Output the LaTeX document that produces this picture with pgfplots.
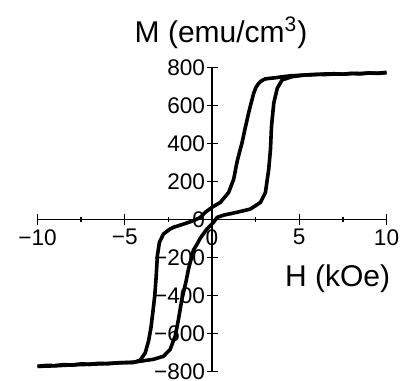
\documentclass[border=0pt]{standalone}
\usepackage{fontspec}
\setmainfont{Liberation Sans}
\usepackage{pgfplots}
\pgfplotsset{compat=1.18}
\begin{document}
\begin{tikzpicture}
\useasboundingbox (-18.75pt,-4.15pt) rectangle (184.25pt,185.85pt);
\begin{axis}[
  scale only axis, width=174.5pt, height=152.2pt,
  xmin=-10, xmax=10, ymin=-800, ymax=800,
  axis lines=middle,
  axis line style={-, line width=0.7pt},
  every inner x axis line/.append style={-},
  every inner y axis line/.append style={-},
  hide obscured x ticks=false, hide obscured y ticks=false,
  xtick={-10,-5,0,5,10},
  xticklabels={−10,−5,0,5,10},
  minor xtick={-7.5,-2.5,2.5,7.5},
  ytick={-800,-600,-400,-200,0,200,400,600,800},
  yticklabels={−800,−600,−400,−200,0,200,400,600,800},
  tick align=center,
  major tick length=5.5pt, minor tick length=2.5pt,
  tick style={black, line width=0.7pt},
  tick label style={font=\fontsize{11.3}{13}\selectfont},
  yticklabel style={xshift=2.8pt},
  xticklabel style={yshift=1.4pt},
  clip=false,
]
\addplot[black, line width=1.8pt, line join=round] coordinates {
(10,772) (9.5,768) (9,770) (8.5,766) (8,767) (7.5,764) (7,765) (6.5,762) (6,763) (5.5,760) (5,758) (4.5,755) (4,750) (3.63,745) (3.3,742) (3.06,739) (2.85,730) (2.68,716) (2.52,695) (2.39,664) (2.25,615) (2.10,560) (1.90,480) (1.72,403) (1.58,355) (1.44,305) (1.24,211) (0.95,142) (0.48,90) (0,64) (-0.385,38) (-0.67,11) (-1.06,-6) (-1.63,-24) (-2.21,-41) (-2.40,-50) (-2.78,-76) (-3.01,-119) (-3.13,-189) (-3.20,-300) (-3.28,-400) (-3.38,-480) (-3.50,-570) (-3.64,-640) (-3.83,-702) (-4.12,-740) (-4.51,-752) (-5.27,-752) (-6,-758) (-6.5,-756) (-7,-761) (-7.5,-759) (-8,-765) (-8.5,-763) (-9,-768) (-9.5,-767) (-10,-772)
};
\addplot[black, line width=1.8pt, line join=round] coordinates {
(-10,-772) (-9,-769) (-8,-764) (-7,-761) (-6,-757) (-5,-752) (-4.5,-750) (-4.12,-745) (-3.36,-735) (-2.78,-719) (-2.40,-683) (-2.11,-613) (-1.92,-524) (-1.72,-416) (-1.50,-330) (-1.34,-258) (-1.06,-160) (-0.86,-130) (-0.67,-98) (-0.29,-50) (0.09,-15) (0.29,11) (0.67,23) (1.44,38) (2.20,55) (2.78,90) (3.06,142) (3.25,264) (3.35,368) (3.41,490) (3.54,612) (3.74,690) (4.02,734) (4.60,751) (5.36,760) (6,762) (6.5,765) (7,766) (7.5,764) (8,768) (8.5,767) (9,770) (9.5,769) (10,773)
};
\node[anchor=base, font=\fontsize{15}{18}\selectfont] at (axis cs:0.52,931) {M (emu/cm\textsuperscript{3})};
\node[anchor=base, font=\fontsize{15}{18}\selectfont] at (axis cs:7.2,-352) {H (kOe)};
\end{axis}
\end{tikzpicture}
\end{document}
